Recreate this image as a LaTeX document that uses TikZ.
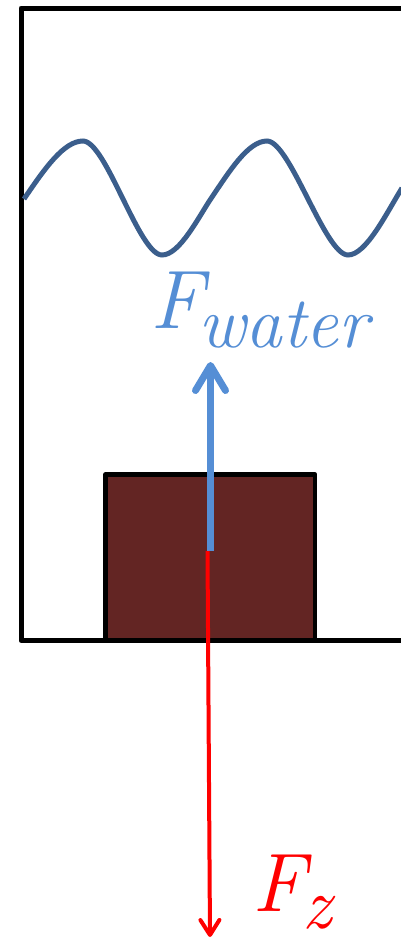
\documentclass[tikz,border=0pt]{standalone}
\usepackage{fontspec}
\usepackage{xcolor}
\usepackage{tikz}
\usetikzlibrary{arrows.meta,positioning}

\definecolor{mudbrown}{HTML}{632523}
\definecolor{wavecol}{HTML}{3B5E8C}
\definecolor{liftblue}{HTML}{558ED5}

% force label: big letter with a large lowered index
\newcommand{\forcelbl}[4]{\itshape\fontsize{83}{90}\selectfont #1\kern#4\raisebox{-#3}{\fontsize{73}{75}\selectfont #2}}

\begin{document}
\begin{tikzpicture}[
  x=1pt, y=-1pt,
  tank/.style={line width=5pt, line join=round, line cap=round},
  block/.style={draw, line width=4.5pt, fill=mudbrown, line join=round,
    minimum width=209.5pt, minimum height=166pt, inner sep=0pt},
  wave/.style={wavecol, line width=5pt},
  uparrow/.style={liftblue, line width=7pt,
    -{Straight Barb[length=25pt,width=30pt,round]}},
  downarrow/.style={red, line width=4pt,
    -{Straight Barb[length=15pt,width=19pt,round]}},
  forcelabel/.style={inner sep=0pt, anchor=base west}
]
\useasboundingbox (0,0) rectangle (400,938);

% tank, open to the right
\draw[tank] (402,8) -- (21,8) -- (21,640.5) -- (402,640.5);

% water surface
\draw[wave] (24,199) .. controls (45,168) and (64,141) .. (83,141)
  .. controls (106,141) and (139,255) .. (162,255)
  .. controls (180,255) and (199,216) .. (212,197)
  .. controls (229,172) and (248,141) .. (267,141)
  .. controls (290,141) and (325,255) .. (348,255)
  .. controls (366,255) and (386,214) .. (402,188);

% sunken block
\node[block] (box) at (210.25,557.5) {};

% forces
\coordinate (centre) at (210.5,551);
\coordinate (liftend) at (210.5,362);
\coordinate (weightstart) at (207.5,551);
\coordinate (weightend) at (210,937);

\draw[uparrow] (centre) -- (liftend);
\draw[downarrow] (weightstart) -- (weightend);

\node[forcelabel, liftblue] (fwater) at (150,328) {\forcelbl{F}{water}{19pt}{-5pt}};
\node[forcelabel, red] (fz) at (252,911) {\forcelbl{F}{z}{17pt}{-3pt}};
\end{tikzpicture}
\end{document}
